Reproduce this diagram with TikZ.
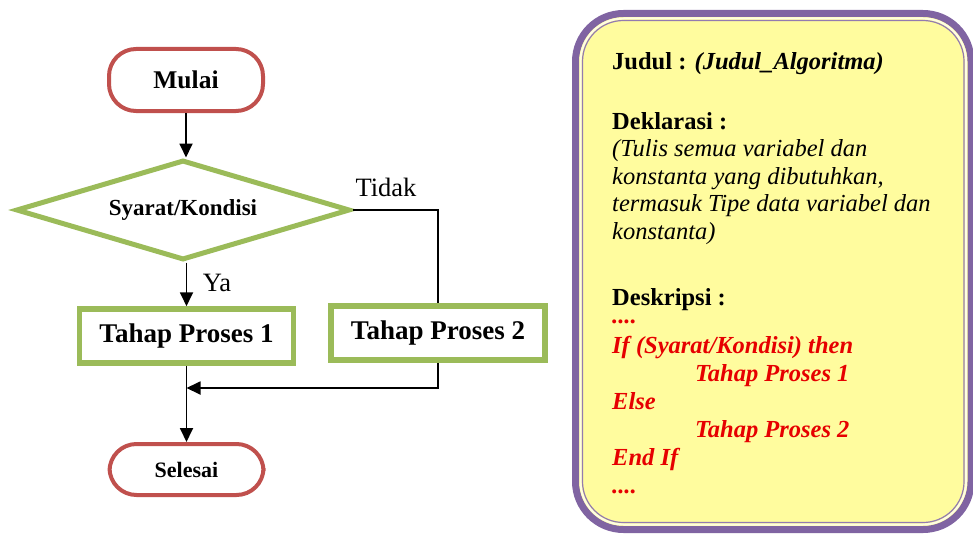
\documentclass[tikz,border=0pt]{standalone}
\usepackage{fontspec}
\setmainfont{Liberation Serif}
\usetikzlibrary{shapes.geometric,arrows.meta}
\definecolor{termred}{HTML}{C0504D}
\definecolor{procgreen}{HTML}{9BBB59}
\definecolor{panelpurple}{HTML}{8064A2}
\definecolor{panelfill}{HTML}{FFFC9E}
\definecolor{codered}{HTML}{E60000}

\begin{document}
\begin{tikzpicture}[x=1pt,y=1pt,
  terminal/.style={draw=termred, line width=4pt, rounded corners=27pt,
    minimum width=154pt, inner sep=0pt, fill=white},
  decision/.style={diamond, shape aspect=3.3, draw=procgreen, line width=5pt,
    minimum width=334pt, minimum height=100pt, inner sep=0pt, fill=white,
    font=\bfseries\fontsize{23}{27}\selectfont},
  process/.style={draw=procgreen, line width=5.5pt, minimum width=214pt,
    minimum height=54pt, inner sep=0pt, fill=white,
    font=\bfseries\fontsize{27}{32}\selectfont},
  flow/.style={line width=1.8pt, -{Triangle[length=14pt,width=13pt]}},
  plain/.style={line width=1.8pt},
  branchlabel/.style={font=\fontsize{26.5}{31}\selectfont, inner sep=0pt},
  paneltext/.style={anchor=base west, inner sep=0pt, font=\fontsize{24.5}{29}\selectfont},
  codetext/.style={paneltext, text=codered, font=\bfseries\itshape\fontsize{24.5}{29}\selectfont}
]
\useasboundingbox (0,0) rectangle (973,-535);

% ---------- flowchart ----------
\node[terminal, minimum height=62pt, font=\bfseries\fontsize{25.5}{30}\selectfont] (mulai) at (186,-80) {Mulai};
\node[decision] (cond) at (183,-210) {Syarat/Kondisi};
\node[process] (p1) at (186.5,-336) {Tahap Proses 1};
\node[process] (p2) at (438,-333) {Tahap Proses 2};
\node[terminal, minimum height=51pt, font=\bfseries\fontsize{22}{26}\selectfont] (selesai) at (186.5,-469.5) {Selesai};
\coordinate (join) at (186.5,-388);

\node[branchlabel] (tidak) at (386,-187) {Tidak};
\node[branchlabel] (ya) at (217,-283) {Ya};

\draw[flow] (mulai.south) -- (mulai.south |- cond.north);
\draw[flow] (cond.south -| p1.north) -- (p1.north);
\draw[plain] (cond.east) -| (p2.north);
\draw[flow] (p2.south) |- (join);
\draw[flow] (p1.south) -- (selesai.north);

% ---------- algorithm panel ----------
\node[draw=panelpurple, line width=7pt, fill=panelfill, rounded corners=48pt,
  minimum width=395.5pt, minimum height=516pt, inner sep=0pt] (panel) at (773.25,-271.5) {};
\draw[white!70!panelfill, line width=2pt, rounded corners=43pt] (580.5,-18.5) rectangle (966,-524.5);
\draw[panelpurple!85, line width=1.2pt, rounded corners=41pt] (582.5,-20.5) rectangle (964,-522.5);

\node[paneltext] (judul) at (612,-69) {\textbf{Judul :} \textbf{\textit{(Judul\_Algoritma)}}};
\node[paneltext] (dekl) at (612,-129) {\textbf{Deklarasi :}};
\node[paneltext] (dk1) at (612,-156.5) {\textit{(Tulis semua variabel dan}};
\node[paneltext] (dk2) at (612,-184) {\textit{konstanta yang dibutuhkan,}};
\node[paneltext] (dk3) at (612,-211.5) {\textit{termasuk Tipe data variabel dan}};
\node[paneltext] (dk4) at (612,-239) {\textit{konstanta)}};
% heading and the opening ellipsis share one node (base = last line)
\node[paneltext, align=left] (desk) at (612,-323)
  {\textbf{Deskripsi :}\\[-11pt]{\color{codered}\bfseries\itshape ....}};
\node[codetext] (c1) at (612,-353) {If (Syarat/Kondisi) then};
\node[codetext] (c2) at (695,-381) {Tahap Proses 1};
\node[codetext] (c3) at (612,-409) {Else};
\node[codetext] (c4) at (695,-437) {Tahap Proses 2};
\node[codetext] (c5) at (612,-465) {End If};
\node[codetext] (c6) at (612,-493) {....};
\end{tikzpicture}
\end{document}
